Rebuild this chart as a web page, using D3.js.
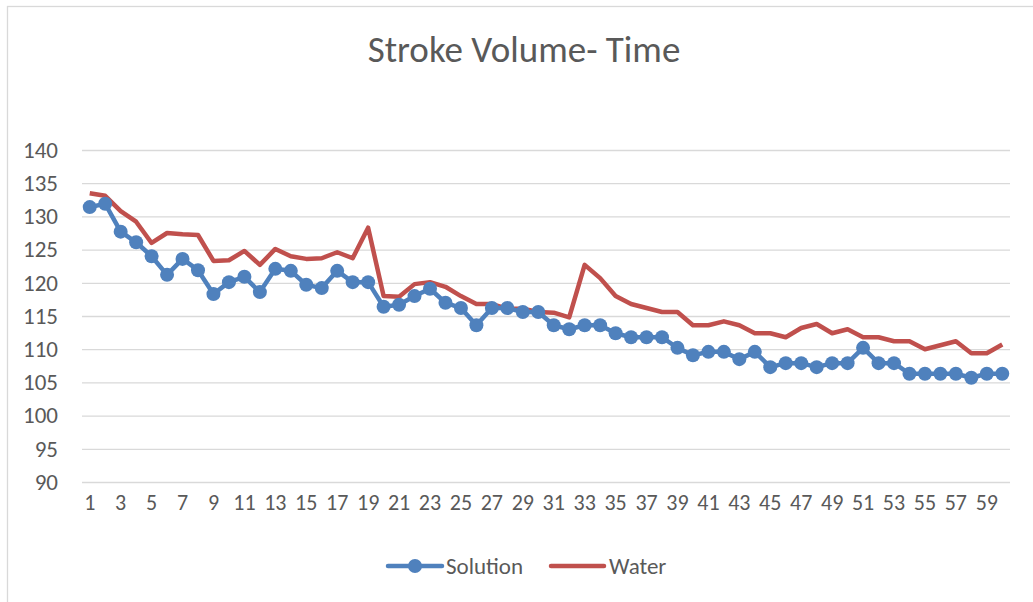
<!DOCTYPE html>
<html>
<head>
  <meta charset="utf-8">
  <title>Stroke Volume- Time</title>
  <script src="https://d3js.org/d3.v7.min.js"></script>
  <style>
    body { margin: 0; background: #fff; }
    text { font-family: Carlito, Calibri, "Liberation Sans Narrow", "Open Sans", sans-serif; fill: #595959; }
    .grid line { stroke: #d9d9d9; stroke-width: 1.3; }
    .grid path { display: none; }
    .axis path, .axis line { display: none; }
  </style>
</head>
<body>
  <script>
    var times = d3.range(1, 61);
    var solution = [131.4, 131.9, 127.7, 126.1, 124.0, 121.2, 123.6, 121.9, 118.3, 120.1,
                    120.9, 118.6, 122.1, 121.8, 119.7, 119.2, 121.8, 120.1, 120.1, 116.4,
                    116.7, 118.0, 119.1, 117.0, 116.2, 113.6, 116.2, 116.2, 115.6, 115.6,
                    113.6, 113.0, 113.6, 113.6, 112.4, 111.8, 111.8, 111.8, 110.2, 109.1,
                    109.6, 109.6, 108.5, 109.6, 107.3, 107.9, 107.9, 107.3, 107.9, 107.9,
                    110.2, 107.9, 107.9, 106.3, 106.3, 106.3, 106.3, 105.7, 106.3, 106.3];
    var water = [133.5, 133.1, 130.8, 129.2, 126.0, 127.5, 127.3, 127.2, 123.3, 123.4,
                 124.8, 122.7, 125.1, 124.0, 123.6, 123.7, 124.6, 123.7, 128.3, 118.0,
                 117.9, 119.8, 120.1, 119.4, 118.0, 116.8, 116.8, 116.1, 116.1, 115.6,
                 115.5, 114.8, 122.7, 120.7, 118.0, 116.8, 116.2, 115.6, 115.6, 113.6,
                 113.6, 114.2, 113.6, 112.4, 112.4, 111.8, 113.2, 113.8, 112.4, 113.0,
                 111.8, 111.8, 111.2, 111.2, 110.0, 110.6, 111.2, 109.4, 109.4, 110.7];
    var yTicks = [90, 95, 100, 105, 110, 115, 120, 125, 130, 135, 140];

    var W = 1033, H = 602;
    var margin = {top: 150, right: 23, bottom: 120, left: 82};
    var width = W - margin.left - margin.right,
        height = H - margin.top - margin.bottom;

    var svg = d3.select("body").append("svg")
        .attr("width", W)
        .attr("height", H);

    // chart border
    svg.append("rect")
        .attr("x", 7.5).attr("y", 6.5)
        .attr("width", W).attr("height", H)
        .attr("fill", "none")
        .attr("stroke", "#d9d9d9")
        .attr("stroke-width", 1.3);

    svg.append("text")
        .attr("x", 524).attr("y", 62)
        .attr("text-anchor", "middle")
        .style("font-size", "37px")
        .text("Stroke Volume- Time");

    var g = svg.append("g")
        .attr("transform", "translate(" + margin.left + "," + margin.top + ")");

    var x = d3.scaleBand()
        .domain(times)
        .range([0, width]);

    var y = d3.scaleLinear()
        .domain([90, 140])
        .range([height, 0]);

    g.append("g")
        .attr("class", "grid")
        .call(d3.axisLeft(y).tickValues(yTicks).tickSize(-width).tickFormat(""));

    g.append("g")
        .attr("class", "axis")
        .attr("transform", "translate(-21,0)")
        .call(d3.axisLeft(y).tickValues(yTicks).tickSize(0))
        .selectAll("text")
        .style("font-size", "23px")
        .attr("text-anchor", "end");

    g.append("g")
        .attr("class", "axis")
        .attr("transform", "translate(0," + height + ")")
        .call(d3.axisBottom(x).tickValues(times.filter(t => t % 2 === 1)).tickSize(0))
        .selectAll("text")
        .style("font-size", "22px")
        .attr("dy", "1.15em");

    var cx = t => x(t) + x.bandwidth() / 2;

    var line = d3.line()
        .x((d, i) => cx(times[i]))
        .y(d => y(d));

    g.append("path")
        .datum(water)
        .attr("fill", "none")
        .attr("stroke", "#c0504d")
        .attr("stroke-width", 4.5)
        .attr("stroke-linejoin", "round")
        .attr("d", line);

    g.append("path")
        .datum(solution)
        .attr("fill", "none")
        .attr("stroke", "#4f81bd")
        .attr("stroke-width", 4.5)
        .attr("stroke-linejoin", "round")
        .attr("d", line);

    g.selectAll(".dot")
        .data(solution)
        .enter().append("circle")
        .attr("class", "dot")
        .attr("cx", (d, i) => cx(times[i]))
        .attr("cy", d => y(d))
        .attr("r", 7)
        .attr("fill", "#4f81bd");

    // legend
    var legend = svg.append("g").attr("transform", "translate(0,566)");
    legend.append("line")
        .attr("x1", 388).attr("x2", 442)
        .attr("stroke", "#4f81bd").attr("stroke-width", 4.5).attr("stroke-linecap", "round");
    legend.append("circle")
        .attr("cx", 415).attr("r", 7).attr("fill", "#4f81bd");
    legend.append("text")
        .attr("x", 446).attr("dy", "0.35em")
        .style("font-size", "23px")
        .text("Solution");
    legend.append("line")
        .attr("x1", 551).attr("x2", 604)
        .attr("stroke", "#c0504d").attr("stroke-width", 4.5).attr("stroke-linecap", "round");
    legend.append("text")
        .attr("x", 609).attr("dy", "0.35em")
        .style("font-size", "23px")
        .text("Water");
  </script>
</body>
</html>
